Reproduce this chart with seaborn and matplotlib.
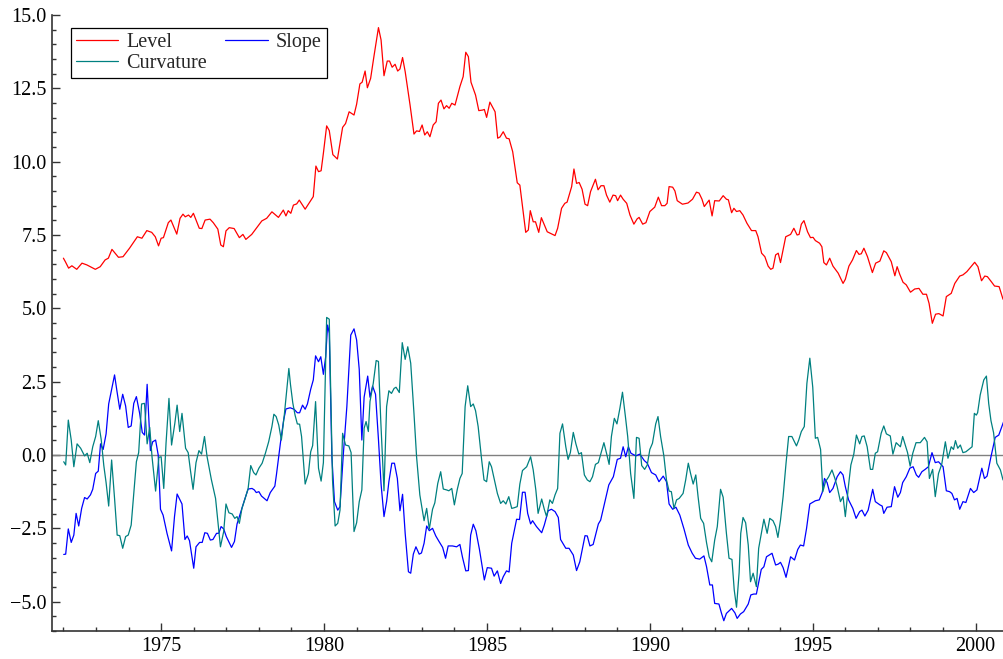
import pandas as pd
import matplotlib
matplotlib.use("Agg")
import matplotlib.pyplot as plt
import seaborn as sns
from matplotlib.ticker import MultipleLocator, FuncFormatter

# values (decimal years)
level_years = [
    1972.00, 1972.06, 1972.16, 1972.26, 1972.41, 1972.57, 1972.72, 1972.98, 1973.13, 1973.28,
    1973.38, 1973.49, 1973.69, 1973.83, 1974.03, 1974.27, 1974.41, 1974.56, 1974.71, 1974.82,
    1974.92, 1975.00, 1975.07, 1975.22, 1975.30, 1975.48, 1975.58, 1975.67, 1975.74, 1975.84,
    1975.91, 1975.99, 1976.17, 1976.25, 1976.35, 1976.50, 1976.60, 1976.74, 1976.83, 1976.91,
    1976.99, 1977.09, 1977.24, 1977.40, 1977.51, 1977.60, 1977.78, 1977.94, 1978.09, 1978.24,
    1978.40, 1978.60, 1978.75, 1978.83, 1978.90, 1978.98, 1979.06, 1979.16, 1979.24, 1979.42,
    1979.67, 1979.75, 1979.83, 1979.91, 1979.98, 1980.08, 1980.16, 1980.27, 1980.41, 1980.57,
    1980.66, 1980.77, 1980.92, 1981.00, 1981.10, 1981.17, 1981.26, 1981.33, 1981.43, 1981.53,
    1981.67, 1981.75, 1981.84, 1981.94, 1982.01, 1982.09, 1982.18, 1982.26, 1982.33, 1982.41,
    1982.49, 1982.64, 1982.76, 1982.84, 1982.93, 1983.01, 1983.09, 1983.17, 1983.25, 1983.35,
    1983.44, 1983.51, 1983.59, 1983.68, 1983.76, 1983.84, 1983.92, 1984.02, 1984.17, 1984.27,
    1984.35, 1984.43, 1984.51, 1984.65, 1984.75, 1984.87, 1984.92, 1984.99, 1985.09, 1985.25,
    1985.33, 1985.40, 1985.50, 1985.60, 1985.68, 1985.79, 1985.93, 1986.01, 1986.19, 1986.27,
    1986.33, 1986.42, 1986.49, 1986.59, 1986.67, 1986.85, 1987.09, 1987.17, 1987.29, 1987.39,
    1987.46, 1987.60, 1987.67, 1987.75, 1987.83, 1987.92, 1988.01, 1988.09, 1988.18, 1988.33,
    1988.41, 1988.50, 1988.59, 1988.67, 1988.77, 1988.87, 1988.95, 1989.01, 1989.10, 1989.18,
    1989.29, 1989.39, 1989.51, 1989.61, 1989.67, 1989.78, 1989.88, 1990.00, 1990.15, 1990.26,
    1990.36, 1990.46, 1990.53, 1990.59, 1990.70, 1990.77, 1990.84, 1991.00, 1991.17, 1991.31,
    1991.43, 1991.51, 1991.60, 1991.67, 1991.82, 1991.91, 1991.99, 1992.13, 1992.25, 1992.35,
    1992.41, 1992.51, 1992.58, 1992.66, 1992.76, 1992.86, 1992.98, 1993.12, 1993.25, 1993.32,
    1993.43, 1993.53, 1993.63, 1993.71, 1993.78, 1993.86, 1993.94, 1994.01, 1994.17, 1994.32,
    1994.42, 1994.52, 1994.58, 1994.65, 1994.73, 1994.84, 1994.93, 1995.01, 1995.08, 1995.21,
    1995.28, 1995.34, 1995.42, 1995.52, 1995.62, 1995.78, 1995.93, 1996.00, 1996.11, 1996.22,
    1996.34, 1996.42, 1996.49, 1996.57, 1996.68, 1996.83, 1996.93, 1997.06, 1997.18, 1997.26,
    1997.41, 1997.52, 1997.59, 1997.67, 1997.77, 1997.87, 1998.00, 1998.13, 1998.26, 1998.38,
    1998.49, 1998.57, 1998.67, 1998.77, 1998.87, 1999.00, 1999.10, 1999.25, 1999.36, 1999.51,
    1999.61, 1999.73, 1999.87, 1999.97, 2000.07, 2000.18, 2000.28, 2000.36, 2000.48, 2000.58,
    2000.72, 2000.84,
]
level = [
    6.71, 6.59, 6.37, 6.45, 6.33, 6.54, 6.48, 6.33, 6.42, 6.65,
    6.71, 7.01, 6.74, 6.76, 7.05, 7.44, 7.39, 7.65, 7.59, 7.44,
    7.13, 7.39, 7.41, 7.92, 8.01, 7.53, 8.07, 8.21, 8.12, 8.18,
    8.10, 8.24, 7.73, 7.72, 8.01, 8.04, 7.92, 7.70, 7.16, 7.10,
    7.64, 7.75, 7.72, 7.41, 7.52, 7.35, 7.52, 7.76, 7.98, 8.07,
    8.29, 8.10, 8.35, 8.15, 8.33, 8.24, 8.52, 8.56, 8.69, 8.38,
    8.81, 9.85, 9.66, 9.69, 10.29, 11.22, 11.06, 10.24, 10.09, 11.17,
    11.30, 11.70, 11.59, 11.96, 12.65, 12.71, 13.09, 12.52, 12.84, 13.58,
    14.57, 14.15, 12.93, 13.43, 13.43, 13.22, 13.32, 13.09, 13.16, 13.55,
    13.07, 11.93, 10.94, 11.05, 11.03, 11.25, 10.91, 11.02, 10.85, 11.25,
    11.36, 11.99, 12.10, 11.80, 11.91, 11.82, 11.99, 11.93, 12.56, 12.90,
    13.73, 13.58, 12.71, 12.27, 11.74, 11.76, 11.78, 11.51, 12.03, 11.70,
    10.80, 10.84, 11.02, 10.80, 10.78, 10.34, 9.28, 9.20, 7.59, 7.67,
    8.33, 7.95, 7.95, 7.59, 8.09, 7.61, 7.48, 7.73, 8.41, 8.58,
    8.62, 9.15, 9.75, 9.26, 9.29, 9.06, 8.55, 8.50, 8.98, 9.40,
    9.04, 9.18, 9.18, 8.86, 8.62, 8.86, 8.84, 8.67, 8.86, 8.72,
    8.58, 8.18, 7.87, 8.05, 8.10, 7.87, 7.92, 8.30, 8.45, 8.79,
    8.50, 8.50, 8.58, 9.15, 9.13, 9.00, 8.67, 8.55, 8.59, 8.72,
    8.96, 8.93, 8.72, 8.47, 8.69, 8.15, 8.67, 8.66, 8.84, 8.72,
    8.70, 8.26, 8.41, 8.30, 8.33, 8.18, 7.90, 7.65, 7.65, 7.44,
    6.88, 6.76, 6.44, 6.33, 6.37, 6.82, 6.88, 6.56, 7.44, 7.52,
    7.73, 7.50, 7.52, 7.87, 7.99, 7.61, 7.41, 7.42, 7.31, 7.22,
    7.10, 6.56, 6.48, 6.71, 6.44, 6.20, 5.85, 5.99, 6.44, 6.65,
    6.97, 6.84, 6.86, 7.05, 6.76, 6.22, 6.54, 6.61, 6.96, 6.90,
    6.59, 6.11, 6.42, 6.16, 5.89, 5.80, 5.55, 5.66, 5.68, 5.48,
    5.48, 5.17, 4.49, 4.80, 4.82, 4.74, 5.40, 5.51, 5.85, 6.10,
    6.14, 6.25, 6.44, 6.57, 6.42, 5.94, 6.10, 6.08, 5.91, 5.76,
    5.74, 5.31,
]

slope_years = [
    1972.01, 1972.07, 1972.15, 1972.24, 1972.32, 1972.39, 1972.47, 1972.56, 1972.65, 1972.73,
    1972.83, 1972.90, 1972.99, 1973.07, 1973.14, 1973.22, 1973.31, 1973.39, 1973.57, 1973.65,
    1973.73, 1973.82, 1973.91, 1973.99, 1974.08, 1974.16, 1974.24, 1974.34, 1974.42, 1974.49,
    1974.57, 1974.62, 1974.67, 1974.74, 1974.83, 1974.91, 1974.98, 1975.06, 1975.18, 1975.32,
    1975.41, 1975.49, 1975.64, 1975.73, 1975.80, 1975.87, 1976.00, 1976.07, 1976.18, 1976.26,
    1976.34, 1976.42, 1976.51, 1976.59, 1976.70, 1976.77, 1976.84, 1976.92, 1977.00, 1977.16,
    1977.25, 1977.33, 1977.43, 1977.56, 1977.67, 1977.79, 1977.86, 1977.92, 1978.00, 1978.08,
    1978.25, 1978.35, 1978.49, 1978.54, 1978.66, 1978.76, 1978.83, 1978.96, 1979.08, 1979.18,
    1979.25, 1979.34, 1979.42, 1979.49, 1979.59, 1979.67, 1979.74, 1979.83, 1979.90, 1979.98,
    1980.05, 1980.11, 1980.16, 1980.24, 1980.32, 1980.42, 1980.49, 1980.59, 1980.70, 1980.82,
    1980.92, 1981.00, 1981.08, 1981.16, 1981.23, 1981.34, 1981.41, 1981.49, 1981.58, 1981.67,
    1981.75, 1981.84, 1981.92, 1981.99, 1982.08, 1982.16, 1982.25, 1982.33, 1982.41, 1982.49,
    1982.59, 1982.66, 1982.74, 1982.82, 1982.92, 1982.99, 1983.07, 1983.15, 1983.23, 1983.33,
    1983.43, 1983.53, 1983.64, 1983.73, 1983.81, 1983.94, 1984.07, 1984.17, 1984.25, 1984.35,
    1984.43, 1984.50, 1984.58, 1984.66, 1984.77, 1984.92, 1985.01, 1985.14, 1985.22, 1985.32,
    1985.42, 1985.50, 1985.60, 1985.68, 1985.76, 1985.91, 1986.00, 1986.09, 1986.17, 1986.25,
    1986.34, 1986.40, 1986.52, 1986.68, 1986.76, 1986.88, 1986.98, 1987.09, 1987.19, 1987.26,
    1987.42, 1987.52, 1987.65, 1987.75, 1987.85, 1988.01, 1988.08, 1988.16, 1988.26, 1988.42,
    1988.49, 1988.59, 1988.74, 1988.88, 1989.00, 1989.10, 1989.18, 1989.26, 1989.34, 1989.42,
    1989.57, 1989.69, 1989.83, 1989.92, 1990.05, 1990.18, 1990.28, 1990.41, 1990.51, 1990.59,
    1990.70, 1990.80, 1990.92, 1991.05, 1991.18, 1991.30, 1991.40, 1991.53, 1991.66, 1991.74,
    1991.84, 1991.92, 1991.99, 1992.12, 1992.20, 1992.27, 1992.35, 1992.51, 1992.61, 1992.68,
    1992.78, 1992.88, 1993.02, 1993.10, 1993.19, 1993.27, 1993.42, 1993.50, 1993.58, 1993.75,
    1993.86, 1993.94, 1994.01, 1994.09, 1994.18, 1994.32, 1994.44, 1994.54, 1994.62, 1994.72,
    1994.81, 1994.91, 1995.08, 1995.20, 1995.29, 1995.36, 1995.44, 1995.52, 1995.62, 1995.75,
    1995.85, 1995.93, 1996.00, 1996.10, 1996.23, 1996.33, 1996.44, 1996.51, 1996.60, 1996.70,
    1996.84, 1996.92, 1997.06, 1997.13, 1997.18, 1997.28, 1997.41, 1997.51, 1997.61, 1997.69,
    1997.76, 1997.87, 1997.98, 1998.08, 1998.18, 1998.25, 1998.35, 1998.45, 1998.55, 1998.66,
    1998.76, 1998.86, 1999.00, 1999.10, 1999.20, 1999.27, 1999.35, 1999.43, 1999.51, 1999.61,
    1999.70, 1999.84, 1999.94, 2000.04, 2000.19, 2000.27, 2000.35, 2000.47, 2000.60, 2000.71,
    2000.86,
]
slope = [
    -3.39, -3.38, -2.52, -2.98, -2.73, -1.99, -2.42, -1.82, -1.45, -1.50,
    -1.36, -1.17, -0.63, -0.55, 0.38, 0.19, 0.72, 1.74, 2.73, 2.13,
    1.56, 2.07, 1.67, 0.94, 0.99, 1.76, 1.99, 1.42, 0.77, 0.68,
    2.41, 1.31, 0.15, 0.45, 0.51, 0.00, -1.85, -2.05, -2.67, -3.27,
    -2.10, -1.33, -1.67, -2.88, -2.76, -2.92, -3.86, -3.13, -2.98, -2.98,
    -2.65, -2.67, -2.90, -2.88, -2.67, -2.67, -2.44, -2.52, -2.78, -3.15,
    -2.95, -2.35, -1.99, -1.53, -1.16, -1.14, -1.19, -1.28, -1.25, -1.40,
    -1.56, -1.28, -1.06, -0.66, 0.40, 1.19, 1.57, 1.61, 1.56, 1.44,
    1.44, 1.70, 1.56, 1.74, 2.24, 2.56, 3.38, 3.18, 3.35, 2.75,
    3.35, 4.43, 4.15, -0.06, -1.59, -1.88, -1.76, 0.00, 1.65, 4.09,
    4.30, 3.92, 2.92, 0.51, 1.97, 2.69, 1.97, 2.35, 2.07, 0.53,
    -0.99, -2.10, -1.59, -0.91, -0.28, -0.28, -0.80, -1.90, -1.34, -2.67,
    -3.98, -4.03, -3.38, -3.13, -3.38, -3.34, -3.01, -2.42, -2.58, -2.50,
    -2.76, -2.95, -3.15, -3.52, -3.10, -3.10, -3.13, -3.05, -3.49, -3.95,
    -3.94, -2.73, -2.36, -2.58, -3.22, -4.26, -3.84, -3.86, -4.13, -3.95,
    -4.38, -4.15, -3.95, -3.99, -3.01, -2.19, -2.20, -1.27, -1.27, -1.99,
    -2.35, -2.24, -2.44, -2.65, -2.39, -1.90, -1.85, -1.93, -2.13, -2.88,
    -3.18, -3.18, -3.41, -3.94, -3.64, -2.75, -2.76, -3.10, -3.05, -2.35,
    -2.22, -1.74, -1.02, -0.74, -0.15, -0.11, 0.28, -0.06, 0.28, 0.06,
    -0.03, 0.03, -0.19, -0.28, -0.60, -0.68, -0.91, -0.72, -0.91, -1.67,
    -1.85, -1.78, -2.05, -2.53, -3.07, -3.35, -3.52, -3.55, -3.44, -3.81,
    -4.43, -4.43, -5.06, -5.08, -5.40, -5.65, -5.40, -5.23, -5.38, -5.57,
    -5.42, -5.34, -5.08, -4.77, -4.74, -4.74, -3.90, -3.81, -3.47, -3.35,
    -3.75, -3.72, -3.66, -3.84, -4.17, -3.47, -3.58, -3.22, -3.07, -3.10,
    -2.50, -1.67, -1.56, -1.53, -1.28, -0.80, -0.94, -1.28, -1.14, -0.74,
    -0.57, -0.68, -1.08, -1.53, -1.82, -2.16, -1.93, -1.88, -2.08, -1.88,
    -1.17, -1.59, -1.70, -1.74, -1.99, -1.78, -1.76, -1.08, -1.44, -1.28,
    -0.94, -0.74, -0.45, -0.40, -0.68, -0.76, -0.57, -0.49, -0.40, 0.08,
    -0.26, -0.23, -0.40, -1.22, -1.25, -1.31, -1.53, -1.48, -1.85, -1.59,
    -1.62, -1.14, -1.28, -1.19, -0.45, -0.80, -0.72, -0.06, 0.60, 0.68,
    1.14,
]

curv_years = [
    1972.01, 1972.07, 1972.15, 1972.24, 1972.32, 1972.42, 1972.53, 1972.65, 1972.73, 1972.81,
    1972.90, 1972.99, 1973.07, 1973.16, 1973.24, 1973.31, 1973.39, 1973.48, 1973.57, 1973.65,
    1973.73, 1973.82, 1973.91, 1973.99, 1974.08, 1974.16, 1974.24, 1974.31, 1974.40, 1974.49,
    1974.57, 1974.65, 1974.72, 1974.83, 1974.93, 1975.00, 1975.08, 1975.15, 1975.24, 1975.32,
    1975.42, 1975.49, 1975.57, 1975.64, 1975.75, 1975.83, 1975.90, 1975.98, 1976.07, 1976.16,
    1976.24, 1976.33, 1976.41, 1976.54, 1976.67, 1976.82, 1976.92, 1976.99, 1977.08, 1977.18,
    1977.26, 1977.33, 1977.40, 1977.48, 1977.57, 1977.67, 1977.75, 1977.84, 1977.91, 1978.00,
    1978.10, 1978.20, 1978.30, 1978.40, 1978.46, 1978.53, 1978.61, 1978.69, 1978.78, 1978.84,
    1978.92, 1978.97, 1979.04, 1979.11, 1979.18, 1979.25, 1979.31, 1979.42, 1979.52, 1979.59,
    1979.65, 1979.74, 1979.83, 1979.91, 1979.98, 1980.08, 1980.16, 1980.26, 1980.34, 1980.42,
    1980.49, 1980.57, 1980.66, 1980.76, 1980.83, 1980.92, 1981.00, 1981.08, 1981.16, 1981.23,
    1981.29, 1981.36, 1981.41, 1981.51, 1981.60, 1981.67, 1981.74, 1981.84, 1981.92, 1981.99,
    1982.07, 1982.15, 1982.21, 1982.31, 1982.40, 1982.49, 1982.57, 1982.66, 1982.76, 1982.84,
    1982.94, 1983.07, 1983.15, 1983.23, 1983.33, 1983.40, 1983.49, 1983.58, 1983.66, 1983.76,
    1983.83, 1983.92, 1984.00, 1984.09, 1984.17, 1984.24, 1984.33, 1984.41, 1984.50, 1984.58,
    1984.65, 1984.73, 1984.84, 1984.91, 1984.99, 1985.07, 1985.14, 1985.22, 1985.32, 1985.42,
    1985.50, 1985.58, 1985.67, 1985.76, 1985.83, 1985.93, 1986.01, 1986.09, 1986.22, 1986.34,
    1986.42, 1986.50, 1986.57, 1986.68, 1986.76, 1986.83, 1986.93, 1987.01, 1987.09, 1987.17,
    1987.24, 1987.32, 1987.42, 1987.49, 1987.56, 1987.65, 1987.73, 1987.82, 1987.90, 1987.99,
    1988.08, 1988.16, 1988.24, 1988.33, 1988.42, 1988.50, 1988.59, 1988.67, 1988.75, 1988.82,
    1988.91, 1988.99, 1989.08, 1989.16, 1989.25, 1989.32, 1989.41, 1989.51, 1989.59, 1989.67,
    1989.75, 1989.84, 1989.92, 1990.00, 1990.08, 1990.18, 1990.25, 1990.33, 1990.43, 1990.51,
    1990.59, 1990.66, 1990.74, 1990.82, 1990.90, 1991.02, 1991.10, 1991.18, 1991.25, 1991.33,
    1991.41, 1991.48, 1991.56, 1991.65, 1991.74, 1991.82, 1991.90, 1991.99, 1992.07, 1992.17,
    1992.25, 1992.35, 1992.43, 1992.52, 1992.59, 1992.66, 1992.74, 1992.79, 1992.86, 1992.94,
    1993.02, 1993.09, 1993.17, 1993.27, 1993.34, 1993.50, 1993.60, 1993.68, 1993.78, 1993.86,
    1993.93, 1994.01, 1994.09, 1994.18, 1994.26, 1994.36, 1994.50, 1994.57, 1994.65, 1994.74,
    1994.82, 1994.91, 1995.00, 1995.08, 1995.15, 1995.24, 1995.31, 1995.39, 1995.49, 1995.59,
    1995.68, 1995.75, 1995.85, 1995.93, 1996.00, 1996.10, 1996.17, 1996.26, 1996.34, 1996.44,
    1996.51, 1996.58, 1996.67, 1996.77, 1996.84, 1996.92, 1996.99, 1997.10, 1997.18, 1997.26,
    1997.38, 1997.46, 1997.56, 1997.69, 1997.76, 1997.84, 1997.91, 1997.99, 1998.07, 1998.17,
    1998.30, 1998.43, 1998.51, 1998.58, 1998.68, 1998.76, 1998.86, 1998.96, 1999.07, 1999.15,
    1999.25, 1999.32, 1999.38, 1999.45, 1999.53, 1999.61, 1999.70, 1999.79, 1999.89, 1999.96,
    2000.02, 2000.06, 2000.14, 2000.25, 2000.33, 2000.40, 2000.47, 2000.55, 2000.65, 2000.76,
    2000.84,
]
curvature = [
    -0.23, -0.34, 1.19, 0.51, -0.40, 0.38, 0.23, -0.03, 0.06, -0.26,
    0.28, 0.63, 1.17, 0.53, -0.36, -0.94, -1.74, -0.17, -1.48, -2.73,
    -2.75, -3.18, -2.78, -2.73, -2.39, -1.31, -0.23, 0.08, 1.74, 1.76,
    0.38, 0.94, -0.06, -1.23, -0.08, -0.06, -1.14, 0.40, 1.93, 0.34,
    1.08, 1.70, 0.80, 1.42, 0.23, 0.08, -0.53, -1.17, -0.26, 0.15,
    0.03, 0.63, -0.06, -0.83, -1.48, -3.13, -2.61, -1.67, -1.97, -2.01,
    -2.16, -2.10, -2.33, -1.82, -1.51, -1.14, -0.36, -0.60, -0.68, -0.45,
    -0.28, 0.06, 0.45, 0.97, 1.39, 1.31, 1.02, 0.51, 1.36, 2.05,
    2.95, 2.40, 1.78, 1.36, 1.06, 1.05, 0.63, -0.99, -0.63, 0.11,
    0.32, 1.82, -0.45, -0.89, -0.26, 4.69, 4.63, -0.85, -2.42, -2.33,
    -1.88, 0.74, 0.34, 0.31, 0.08, -2.61, -2.31, -1.59, -1.19, 0.91,
    1.14, 0.80, 1.82, 2.44, 3.22, 3.19, 1.19, -1.22, 1.65, 2.19,
    2.10, 2.27, 2.31, 2.13, 3.83, 3.26, 3.69, 3.13, 1.42, -0.06,
    -1.36, -2.24, -1.82, -2.53, -1.85, -1.63, -0.97, -0.57, -1.16, -1.19,
    -1.22, -1.14, -1.70, -1.17, -0.80, -0.63, 1.65, 2.36, 1.65, 1.74,
    1.51, 0.97, -0.19, -0.85, -0.91, -0.23, -0.40, -0.80, -1.31, -1.65,
    -1.56, -1.67, -1.42, -1.82, -1.80, -1.76, -0.99, -0.53, -0.40, -0.06,
    -0.51, -1.19, -1.99, -1.50, -1.85, -2.10, -1.53, -1.65, -1.36, -1.14,
    0.74, 1.06, 0.28, -0.15, 0.08, 0.77, 0.38, 0.03, 0.08, -0.68,
    -0.85, -0.91, -0.74, -0.32, -0.26, 0.06, 0.42, 0.06, -0.32, 0.63,
    1.25, 1.06, 1.59, 2.14, 1.31, 0.63, -0.63, -1.48, 0.60, 0.57,
    -0.36, -0.49, -0.34, 0.19, 0.40, 1.06, 1.31, 0.63, -0.03, -0.85,
    -1.23, -1.25, -1.82, -1.53, -1.48, -1.31, -0.85, -0.28, -0.63, -0.99,
    -0.68, -1.42, -2.16, -2.33, -2.99, -3.47, -3.64, -2.90, -2.44, -1.17,
    -1.44, -2.67, -3.52, -3.56, -4.60, -5.19, -4.01, -2.67, -2.13, -2.31,
    -3.07, -4.32, -4.03, -4.49, -3.18, -2.19, -2.67, -2.16, -2.24, -2.44,
    -2.81, -2.22, -1.42, -0.28, 0.63, 0.63, 0.31, 0.51, 0.80, 0.97,
    2.44, 3.30, 2.31, 0.57, 0.60, 0.19, -1.25, -0.91, -0.74, -0.51,
    -0.80, -1.08, -1.59, -1.42, -2.10, -1.02, -0.34, 0.03, 0.68, 0.38,
    0.63, 0.65, 0.28, -0.49, -0.49, 0.06, 0.11, 0.74, 0.99, 0.72,
    0.65, 0.03, 0.42, 0.28, 0.63, 0.34, 0.08, -0.38, 0.06, 0.42,
    0.42, 0.60, 0.45, -0.80, -0.49, -1.42, -0.63, -0.31, 0.45, -0.11,
    0.28, 0.19, 0.49, 0.23, 0.34, 0.08, 0.11, 0.19, 0.28, 1.42,
    1.36, 1.44, 2.05, 2.56, 2.69, 1.76, 1.17, 0.76, -0.28, -0.51,
    -0.85,
]

x_ticks = [1975, 1980, 1985, 1990, 1995, 2000]
y_ticks = [-5.0, -2.5, 0.0, 2.5, 5.0, 7.5, 10.0, 12.5, 15.0]

df_level = pd.DataFrame({'year': level_years, 'value': level})
df_slope = pd.DataFrame({'year': slope_years, 'value': slope})
df_curv = pd.DataFrame({'year': curv_years, 'value': curvature})

sns.set_style("ticks")
plt.rcParams['font.family'] = ['Liberation Serif', 'DejaVu Serif']
plt.rcParams['font.size'] = 14.5

fig = plt.figure(figsize=(10.04, 6.59), dpi=100)
ax = fig.add_axes([52 / 1004, 28 / 659, 952 / 1004, 616 / 659])

ax.axhline(0, color='#808080', lw=1.0, zorder=1)
sns.lineplot(data=df_level, x='year', y='value', ax=ax, color='#ff0000', lw=0.9,
             label='Level', estimator=None, sort=False)
sns.lineplot(data=df_slope, x='year', y='value', ax=ax, color='#0000ff', lw=0.9,
             label='Slope', estimator=None, sort=False)
sns.lineplot(data=df_curv, x='year', y='value', ax=ax, color='#008080', lw=0.9,
             label='Curvature', estimator=None, sort=False)

ax.set_xlim(1971.65, 2000.87)
ax.set_ylim(-6, 15)
ax.set_xticks(x_ticks)
ax.set_yticks(y_ticks)
ax.yaxis.set_major_formatter(FuncFormatter(lambda v, p: f'{v:.1f}'.replace('-', '\u2212')))
ax.xaxis.set_minor_locator(MultipleLocator(1))
ax.yaxis.set_minor_locator(MultipleLocator(0.5))
ax.tick_params(which='both', direction='in', color='#333333', width=1, labelcolor='black')
ax.tick_params(which='major', length=6, pad=4)
ax.tick_params(which='minor', length=3.2)
ax.set_xlabel('')
ax.set_ylabel('')
for side in ['top', 'right']:
    ax.spines[side].set_visible(False)
for side in ['left', 'bottom']:
    ax.spines[side].set_color('#333333')
    ax.spines[side].set_linewidth(1.2)

# two-column legend: Level / Curvature in the first column, Slope in the second
h, l = ax.get_legend_handles_labels()
leg = ax.legend([h[0], h[2], h[1]], [l[0], l[2], l[1]], ncol=2, loc='upper left',
                bbox_to_anchor=(19 / 952, 1 - 12.7 / 616), borderaxespad=0,
                frameon=True, fancybox=False, edgecolor='black', framealpha=1,
                handlelength=2.1, handletextpad=0.4, columnspacing=0.9,
                labelspacing=0.1, borderpad=0.25)
leg.get_frame().set_linewidth(0.9)

fig.savefig('out.png', dpi=100)
